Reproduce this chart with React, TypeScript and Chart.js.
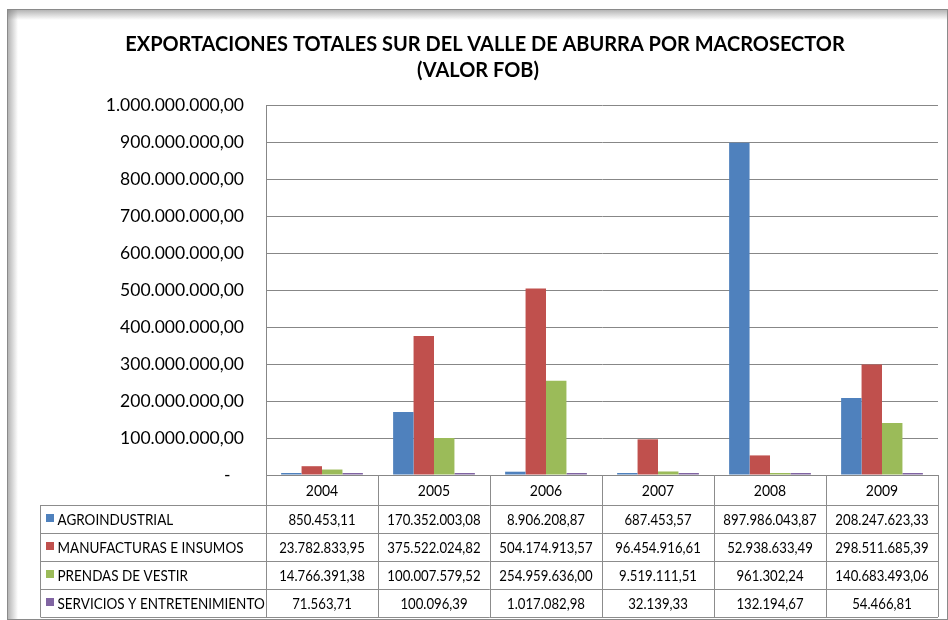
import React, { useEffect, useRef } from "react";
import { Chart, registerables } from "chart.js";

Chart.register(...registerables);

const years = ["2004", "2005", "2006", "2007", "2008", "2009"];
const seriesNames = [
  "AGROINDUSTRIAL",
  "MANUFACTURAS E INSUMOS",
  "PRENDAS DE VESTIR",
  "SERVICIOS Y ENTRETENIMIENTO",
];
const agroindustrial = [850453.11, 170352003.08, 8906208.87, 687453.57, 897986043.87, 208247623.33];
const manufacturas = [23782833.95, 375522024.82, 504174913.57, 96454916.61, 52938633.49, 298511685.39];
const prendas = [14766391.38, 100007579.52, 254959636.0, 9519111.51, 961302.24, 140683493.06];
const servicios = [71563.71, 100096.39, 1017082.98, 32139.33, 132194.67, 54466.81];
const seriesColors = ["#4F81BD", "#C0504D", "#9BBB59", "#8064A2"];
const titleLines = ["EXPORTACIONES TOTALES SUR DEL VALLE DE ABURRA POR MACROSECTOR", "(VALOR FOB)"];
const yMax = 1000000000;
const yStep = 100000000;

const FONT = "Lato, 'Open Sans', sans-serif";

function fmt(v: number): string {
  const [i, d] = v.toFixed(2).split(".");
  return i.replace(/\B(?=(\d{3})+(?!\d))/g, ".") + "," + d;
}

function textScaled(ctx: any, s: string, x: number, y: number, sx: number) {
  ctx.save();
  ctx.translate(x, y);
  ctx.scale(sx, 1);
  ctx.fillText(s, 0, 0);
  ctx.restore();
}

const framePlugin = {
  id: "frame",
  beforeDraw(chart: any) {
    const ctx = chart.ctx;
    ctx.save();
    ctx.fillStyle = "#ffffff";
    ctx.fillRect(0, 0, chart.width, chart.height);
    const gl = ctx.createLinearGradient(8, 0, 18, 0);
    gl.addColorStop(0, "rgba(120,120,120,0.55)");
    gl.addColorStop(1, "rgba(120,120,120,0)");
    ctx.fillStyle = gl;
    ctx.fillRect(8, 10, 10, 610);
    const gt = ctx.createLinearGradient(0, 10, 0, 20);
    gt.addColorStop(0, "rgba(120,120,120,0.55)");
    gt.addColorStop(1, "rgba(120,120,120,0)");
    ctx.fillStyle = gt;
    ctx.fillRect(8, 10, 940, 10);
    ctx.strokeStyle = "#8a8a8a";
    ctx.lineWidth = 1;
    ctx.strokeRect(7.5, 9.5, 940, 610);
    ctx.fillStyle = "#000";
    ctx.font = `bold 21px ${FONT}`;
    ctx.textAlign = "center";
    ctx.textBaseline = "middle";
    textScaled(ctx, titleLines[0], 485, 44, 0.95);
    textScaled(ctx, titleLines[1], 478, 70, 0.95);
    ctx.restore();
  },
};

const tablePlugin = {
  id: "datatable",
  afterDraw(chart: any) {
    const ctx = chart.ctx;
    const area = chart.chartArea;
    const xs = chart.scales.x;
    const n = years.length;
    const colW = (area.right - area.left) / n;
    const top = area.bottom;
    const headerBottom = 505;
    const rowH = 28;
    const bottom = headerBottom + rowH * seriesNames.length;
    const tableLeft = 40.5;
    const data = [agroindustrial, manufacturas, prendas, servicios];
    ctx.save();
    ctx.strokeStyle = "#8c8c8c";
    ctx.lineWidth = 1;
    ctx.beginPath();
    for (let i = 0; i <= n; i++) {
      const x = Math.round(area.left + i * colW) + 0.5;
      ctx.moveTo(x, top);
      ctx.lineTo(x, bottom);
    }
    ctx.moveTo(tableLeft, headerBottom);
    ctx.lineTo(tableLeft, bottom);
    for (let r = 0; r <= seriesNames.length; r++) {
      const y = headerBottom + r * rowH + 0.5;
      ctx.moveTo(tableLeft, y);
      ctx.lineTo(area.right, y);
    }
    ctx.stroke();

    ctx.fillStyle = "#000";
    ctx.font = `15.5px ${FONT}`;
    ctx.textAlign = "center";
    ctx.textBaseline = "middle";
    for (let i = 0; i < n; i++) {
      const cx = xs.getPixelForValue(i);
      textScaled(ctx, years[i], cx, (top + headerBottom) / 2 + 1, 0.9);
      for (let r = 0; r < data.length; r++) {
        textScaled(ctx, fmt(data[r][i]), cx, headerBottom + r * rowH + rowH / 2 + 1, 0.85);
      }
    }
    ctx.textAlign = "left";
    for (let r = 0; r < seriesNames.length; r++) {
      const cy = headerBottom + r * rowH + rowH / 2;
      ctx.fillStyle = seriesColors[r];
      ctx.fillRect(46, cy - 5, 8, 8);
      ctx.fillStyle = "#000";
      textScaled(ctx, seriesNames[r], 57.5, cy + 1, 0.87);
    }
    ctx.restore();
  },
};

export default function App() {
  const ref = useRef<HTMLCanvasElement>(null);
  useEffect(() => {
    document.body.style.margin = "0";
    const c = ref.current!;
    const chart = new Chart(c, {
      type: "bar",
      data: {
        labels: years,
        datasets: [agroindustrial, manufacturas, prendas, servicios].map((d, i) => ({
          label: seriesNames[i],
          data: d,
          backgroundColor: seriesColors[i],
          borderWidth: 0,
          minBarLength: 2,
          barPercentage: 1,
          categoryPercentage: 0.73,
        })),
      },
      options: {
        responsive: false,
        animation: false,
        layout: { padding: { top: 105, bottom: 145, right: 10, left: 0 } },
        plugins: { legend: { display: false }, title: { display: false }, tooltip: { enabled: false } },
        scales: {
          x: { display: false, grid: { display: false } },
          y: {
            min: 0,
            max: yMax,
            afterFit(scale: any) {
              scale.width = 266;
            },
            ticks: {
              stepSize: yStep,
              padding: 22,
              color: "#000",
              font: { family: FONT, size: 17.5 },
              callback: (v: any) => (Number(v) === 0 ? "-   " : fmt(Number(v))),
            },
            grid: { color: "#878787", drawTicks: false, lineWidth: 1 },
            border: { display: true, color: "#878787" },
          },
        },
      },
      plugins: [framePlugin, tablePlugin],
    });
    return () => chart.destroy();
  }, []);
  return <canvas ref={ref} width={948} height={620} style={{ display: "block" }} />;
}
